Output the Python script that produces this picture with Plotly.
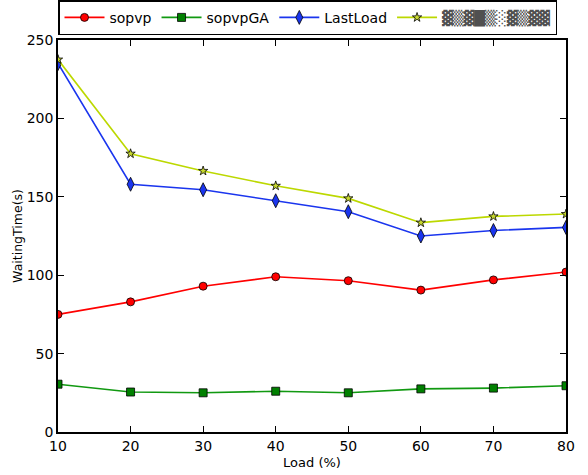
import plotly.graph_objects as go

load = [10, 20, 30, 40, 50, 60, 70, 80]
sopvp = [75, 83, 93, 99, 96.5, 90.5, 97, 102]
sopvpGA = [30.5, 25.5, 25, 26, 25, 27.5, 28, 29.5]
lastload = [235, 158, 154.5, 147.5, 140.5, 125, 128.5, 130.5]
fourth = [237.5, 177.5, 166.5, 157, 149, 133.5, 137.5, 139]
x_ticks = [10, 20, 30, 40, 50, 60, 70, 80]
y_ticks = [0, 50, 100, 150, 200, 250]

fig = go.Figure()
series = [
    ("sopvp", sopvp, "#ff0000", "circle", "#ff0000", 8),
    ("sopvpGA", sopvpGA, "#119911", "square", "#008000", 8),
    ("LastLoad", lastload, "#1a35ee", "diamond-tall", "#1a35ee", 10),
    ("<span style='color:#505050'>▓▒▓█▒░▓▒▓▓</span>", fourth, "#bcd800", "star", "#c8d830", 7),
]
for name, vals, lc, sym, mc, ms in series:
    fig.add_trace(go.Scatter(
        x=load, y=vals, name=name, mode="lines+markers",
        line=dict(color=lc, width=1.6),
        marker=dict(symbol=sym, color=mc, size=ms, line=dict(color="#000000", width=0.8)),
        cliponaxis=True,
    ))

axis_common = dict(
    showline=True, linecolor="#000000", linewidth=1.5, mirror="ticks",
    ticks="inside", ticklen=6, tickcolor="#000000", tickwidth=1,
    showgrid=False, zeroline=False, automargin=True,
    tickfont=dict(family="DejaVu Sans", size=14, color="#000000"),
)
fig.update_layout(
    width=588, height=475,
    margin=dict(l=58, r=22, t=40, b=43, autoexpand=False),
    paper_bgcolor="white", plot_bgcolor="white",
    font=dict(family="DejaVu Sans", size=13, color="#000000"),
    xaxis=dict(range=[10, 80], tickvals=x_ticks,
               title=dict(text="Load (%)", font=dict(size=13), standoff=5), **axis_common),
    yaxis=dict(range=[0, 250], tickvals=y_ticks,
               title=dict(text="WaitingTime(s)", font=dict(size=12.5), standoff=1), **axis_common),
    legend=dict(
        orientation="h", x=0.0, y=1.012, xanchor="left", yanchor="bottom",
        bordercolor="#000000", borderwidth=1.5, bgcolor="white",
        font=dict(family="DejaVu Sans", size=14, color="#000000"),
        itemwidth=40, tracegroupgap=0,
    ),
)
fig.write_html("out.html", config={"displayModeBar": False},
               post_script="document.body.style.margin='0';document.body.style.overflow='hidden';")
